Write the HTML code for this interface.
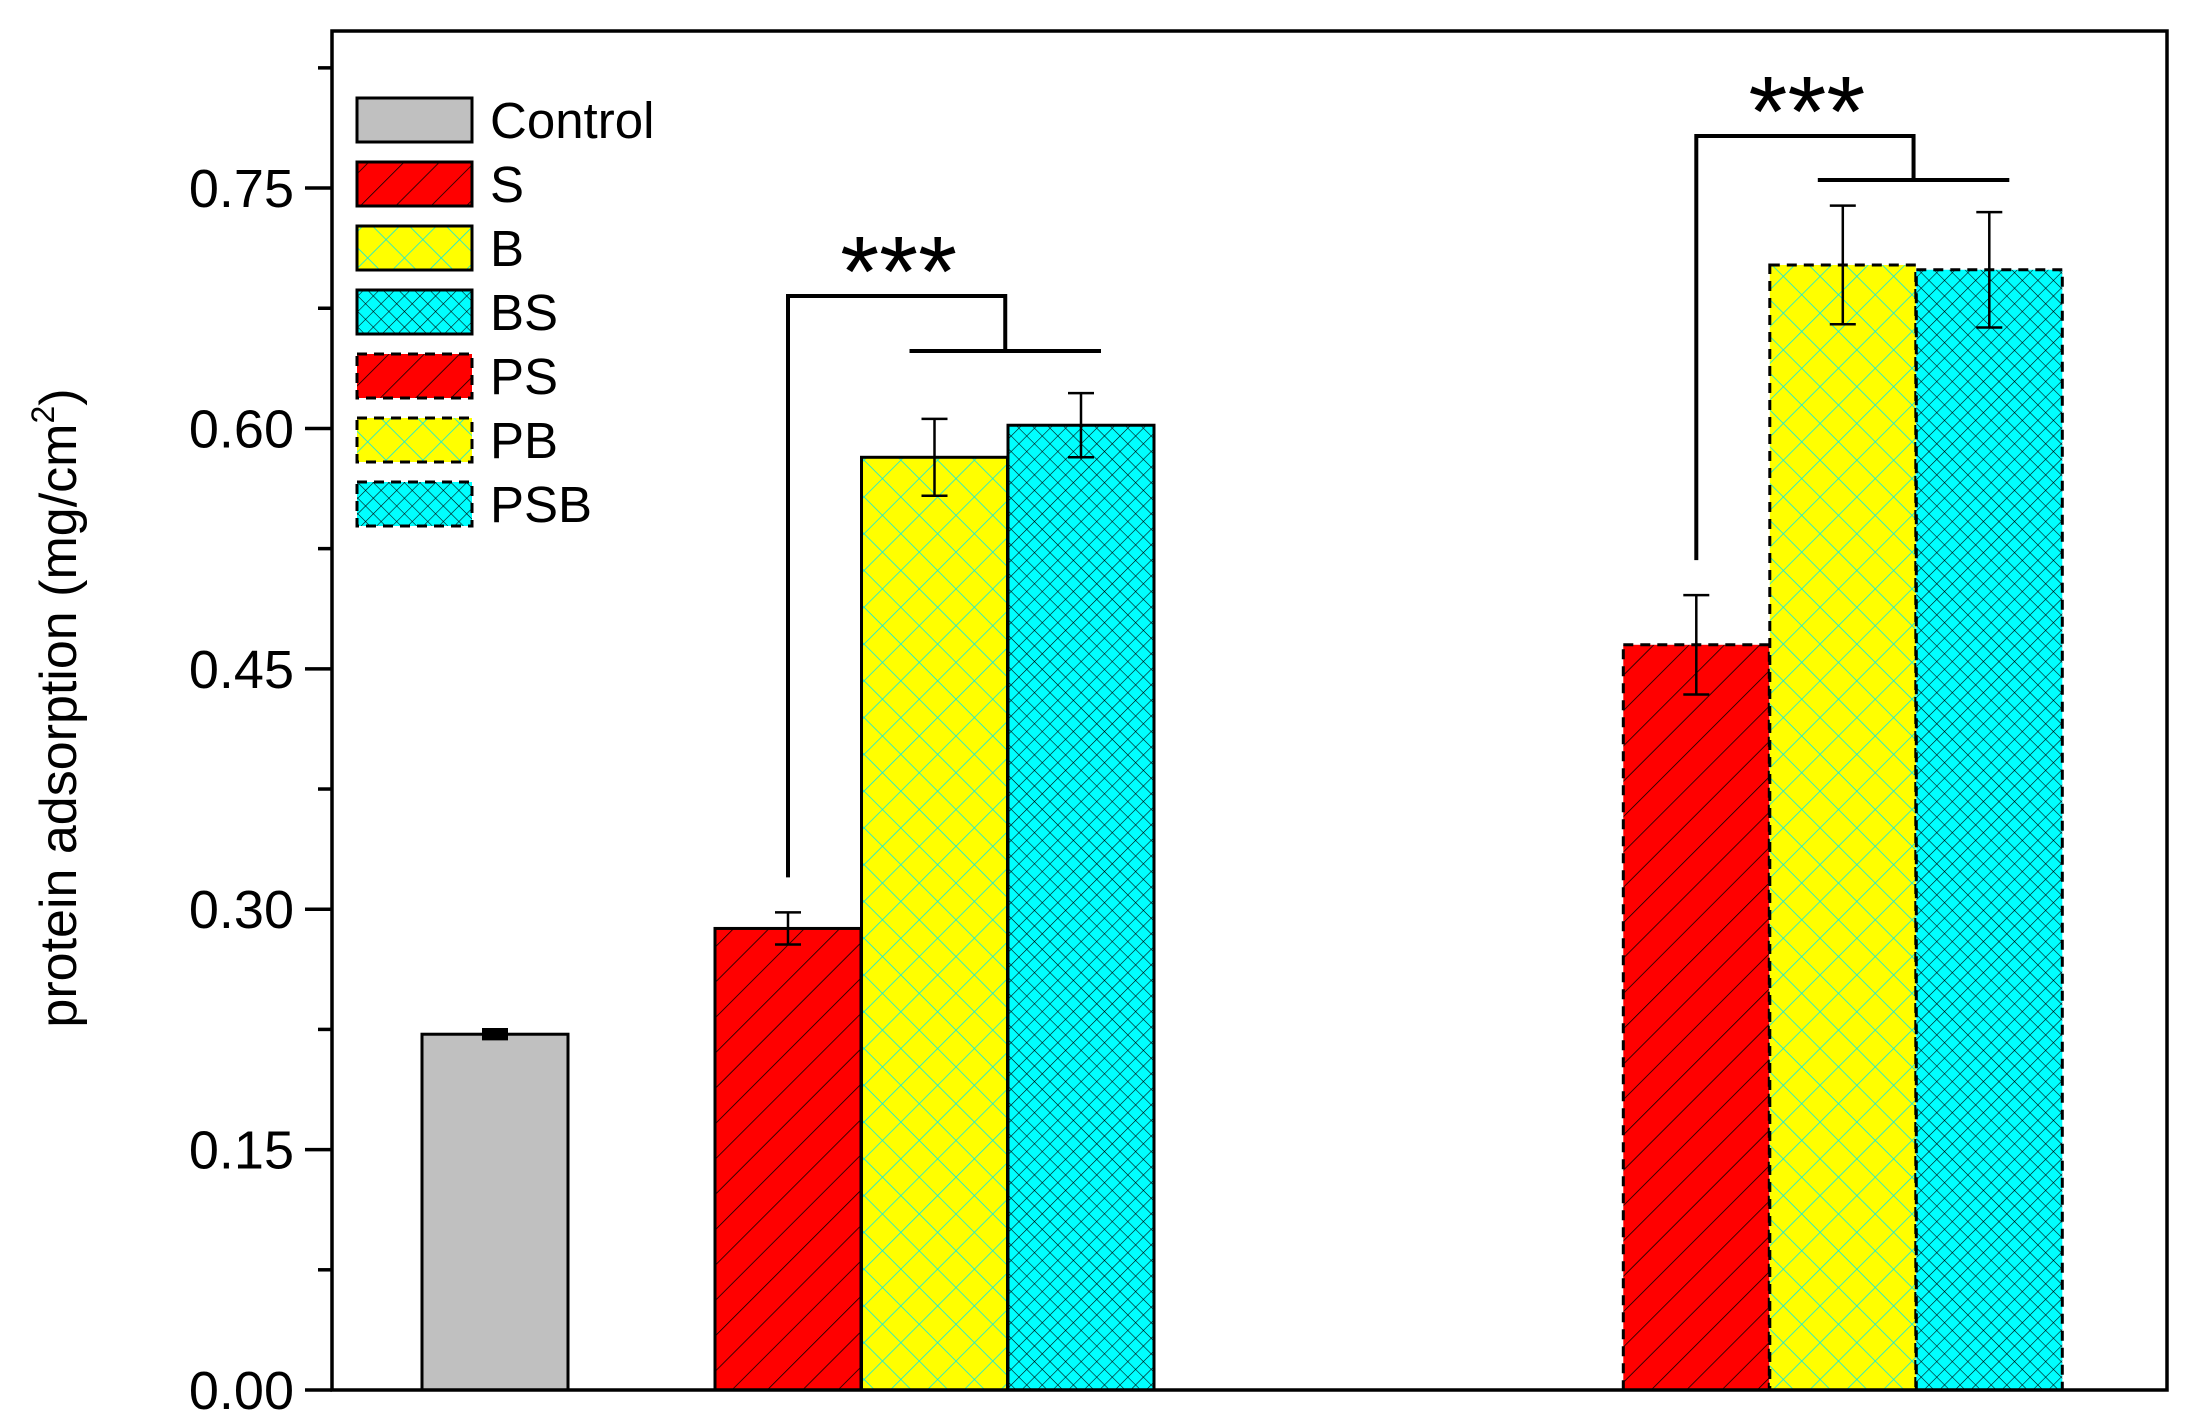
<!DOCTYPE html>
<html><head><meta charset="utf-8"><style>
html,body{margin:0;padding:0;background:#fff;}
svg{display:block;}
text{font-family:"Liberation Sans",Arial,sans-serif;fill:#000;}
</style></head><body>
<svg id="chart" width="2188" height="1424" viewBox="0 0 2188 1424">
<defs>
<pattern id="pS" patternUnits="userSpaceOnUse" width="25" height="25" patternTransform="rotate(45)">
<rect width="25" height="25" fill="#ff0000"/><line x1="0" y1="0" x2="0" y2="25" stroke="#000" stroke-width="1.5"/></pattern>
<pattern id="pB" patternUnits="userSpaceOnUse" width="26" height="26" patternTransform="rotate(45)">
<rect width="26" height="26" fill="#ffff00"/><line x1="0" y1="0" x2="0" y2="26" stroke="#00e5ee" stroke-width="1.5"/><line x1="0" y1="0" x2="26" y2="0" stroke="#00e5ee" stroke-width="1.5"/></pattern>
<pattern id="pBS" patternUnits="userSpaceOnUse" width="11" height="11" patternTransform="rotate(45)">
<rect width="11" height="11" fill="#00ffff"/><line x1="0" y1="0" x2="0" y2="11" stroke="#000" stroke-width="1.1"/><line x1="0" y1="0" x2="11" y2="0" stroke="#000" stroke-width="1.1"/></pattern>
<pattern id="pC" patternUnits="userSpaceOnUse" width="10" height="10"><rect width="10" height="10" fill="#c0c0c0"/></pattern>
</defs>
<g id="plot"></g>
</svg>
<script>
const categories = ["Control","S","B","BS","PS","PB","PSB"];
const values = [0.222, 0.288, 0.582, 0.602, 0.465, 0.702, 0.699];
const errors = [0.002, 0.010, 0.024, 0.020, 0.031, 0.037, 0.036];
const slots = [0, 2, 3, 4, 8.2, 9.2, 10.2];
const yTicks = [0, 0.15, 0.30, 0.45, 0.60, 0.75];
const yTickLabels = ["0.00","0.15","0.30","0.45","0.60","0.75"];
const fills = ["url(#pC)","url(#pS)","url(#pB)","url(#pBS)","url(#pS)","url(#pB)","url(#pBS)"];
const dashed = [false,false,false,false,true,true,true];

const NS = "http://www.w3.org/2000/svg";
const g = document.getElementById('plot');
const X0 = 332, X1 = 2167, Ytop = 31, Ybot = 1390;
const yMax = 0.848;
const barW = 146;
function y(v){ return Ybot - v/yMax*(Ybot-Ytop); }
function xL(s){ return 422 + s*146.5; }
function mk(tag, attrs){ const e=document.createElementNS(NS,tag); for(const k in attrs) e.setAttribute(k,attrs[k]); g.appendChild(e); return e; }

categories.forEach((c,i)=>{
  const x = xL(slots[i]), top = y(values[i]);
  const r = mk('rect',{x:x,y:top,width:barW,height:Ybot-top,fill:fills[i],stroke:'#000','stroke-width':3});
  if(dashed[i]) r.setAttribute('stroke-dasharray','10,7');
  
  
});
categories.forEach((c,i)=>{
  const cx = xL(slots[i]) + barW/2;
  const hi = y(values[i]+errors[i]), lo = y(values[i]-errors[i]);
  const eg = document.createElementNS(NS,'g');
  
  
  g.appendChild(eg);
  [[cx,hi,cx,lo],[cx-13,hi,cx+13,hi],[cx-13,lo,cx+13,lo]].forEach(l=>{
    const e=document.createElementNS(NS,'line');
    e.setAttribute('x1',l[0]);e.setAttribute('y1',l[1]);e.setAttribute('x2',l[2]);e.setAttribute('y2',l[3]);
    e.setAttribute('stroke','#000');e.setAttribute('stroke-width',i===0?6:2.5);
    eg.appendChild(e);
  });
});
const fr = mk('rect',{x:X0,y:Ytop,width:X1-X0,height:Ybot-Ytop,fill:'none',stroke:'#000','stroke-width':3.5});


for(let k=0;k<=11;k++){
  const v = k*0.075; const yy=y(v);
  const major = k%2===0;
  mk('line',{x1:X0-(major?27:14),y1:yy,x2:X0,y2:yy,stroke:'#000','stroke-width':3.5});
}
yTicks.forEach((v,i)=>{
  const t = mk('text',{x:X0-38,y:y(v)+19,'font-size':54,'text-anchor':'end'});
  t.textContent = yTickLabels[i];
  
  
});
const yt = mk('text',{x:0,y:0,'font-size':52,'text-anchor':'middle',transform:'translate(76,708) rotate(-90)'});
yt.innerHTML = 'protein adsorption (mg/cm<tspan dy="-22" font-size="32">2</tspan><tspan dy="22">)</tspan>';



const legend = document.createElementNS(NS,'g');


g.appendChild(legend);
categories.forEach((c,i)=>{
  const ty = 98 + i*64;
  const r=document.createElementNS(NS,'rect');
  r.setAttribute('x',357);r.setAttribute('y',ty);r.setAttribute('width',115);r.setAttribute('height',44);
  r.setAttribute('fill',fills[i]);r.setAttribute('stroke','#000');r.setAttribute('stroke-width',3);
  if(dashed[i]) r.setAttribute('stroke-dasharray','10,7');
  
  
  legend.appendChild(r);
  const t=document.createElementNS(NS,'text');
  t.setAttribute('x',490);t.setAttribute('y',ty+40);t.setAttribute('font-size',51);
  t.textContent=c;
  
  
  legend.appendChild(t);
});

function bracket(leftBar, rightBars, topY, midY, name){
  const lx = xL(slots[leftBar]) + barW/2;
  const lowY = y(values[leftBar]+errors[leftBar]) - 35;
  const r1 = xL(slots[rightBars[0]]) + barW/2 - 25;
  const r2 = xL(slots[rightBars[1]]) + barW/2 + 20;
  const jx = (r1+r2)/2;
  const bg = document.createElementNS(NS,'g');
  
  
  g.appendChild(bg);
  const p=document.createElementNS(NS,'path');
  p.setAttribute('d',`M${lx},${lowY} V${topY} H${jx} V${midY} M${r1},${midY} H${r2}`);
  p.setAttribute('fill','none');p.setAttribute('stroke','#000');p.setAttribute('stroke-width',4);
  bg.appendChild(p);
  const t=document.createElementNS(NS,'text');
  t.setAttribute('x',(lx+jx)/2+2);t.setAttribute('y',topY+10);t.setAttribute('font-size',100);
  t.setAttribute('text-anchor','middle');t.textContent='***';
  bg.appendChild(t);
}
bracket(1,[2,3],296,351,'significance-bracket-group1');
bracket(4,[5,6],136,180,'significance-bracket-group2');
</script>
</body></html>
